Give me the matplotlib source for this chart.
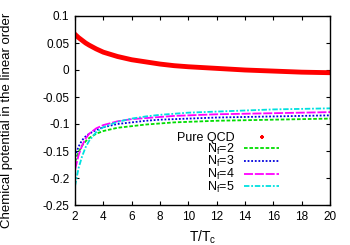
import numpy as np
import matplotlib
matplotlib.use('Agg')
import matplotlib.pyplot as plt

# valores
T = [2, 2.25, 2.5, 2.75, 3, 3.5, 4, 5, 6, 7, 8, 9, 10, 12, 14, 16, 18, 20]
pure = [0.066, 0.060, 0.055, 0.050, 0.046, 0.039, 0.033, 0.025, 0.019, 0.015, 0.011, 0.008, 0.006, 0.003, 0.000, -0.002, -0.004, -0.005]
nf2 = [-0.170, -0.152, -0.140, -0.132, -0.126, -0.118, -0.113, -0.107, -0.104, -0.101, -0.099, -0.097, -0.096, -0.094, -0.093, -0.092, -0.091, -0.090]
nf3 = [-0.160, -0.142, -0.130, -0.123, -0.118, -0.111, -0.106, -0.100, -0.097, -0.094, -0.092, -0.091, -0.090, -0.088, -0.087, -0.086, -0.085, -0.084]
nf4 = [-0.185, -0.158, -0.140, -0.127, -0.118, -0.108, -0.102, -0.095, -0.091, -0.089, -0.087, -0.085, -0.084, -0.082, -0.081, -0.080, -0.079, -0.078]
nf5 = [-0.215, -0.182, -0.160, -0.143, -0.131, -0.115, -0.106, -0.096, -0.090, -0.086, -0.083, -0.081, -0.079, -0.077, -0.075, -0.073, -0.072, -0.071]

plt.rcParams['font.family'] = ['Liberation Sans', 'DejaVu Sans']
plt.rcParams['font.size'] = 8.5
plt.rcParams['mathtext.fontset'] = 'custom'
plt.rcParams['mathtext.rm'] = 'Liberation Sans'
plt.rcParams['mathtext.it'] = 'Liberation Sans'

fig = plt.figure(figsize=(3.5, 2.45), dpi=100)
ax = fig.add_axes([75/350, 1 - 205/245, 255/350, 189/245])

ax.plot(T, pure, color='red', linewidth=3.5, label='Pure QCD')
ax.plot(T, nf2, color='#00dd00', linestyle=(0, (2, 1)), linewidth=1.3, label=r'N$_\mathrm{f}$=2')
ax.plot(T, nf3, color='#0000dd', linestyle=(0, (1, 1)), linewidth=1.3, label=r'N$_\mathrm{f}$=3')
ax.plot(T, nf4, color='#ff00ff', linestyle=(0, (5, 1)), linewidth=1.3, label=r'N$_\mathrm{f}$=4')
ax.plot(T, nf5, color='#00e0e0', linestyle=(0, (3, 1, 1, 1)), linewidth=1.3, label=r'N$_\mathrm{f}$=5')

handles, labels = ax.get_legend_handles_labels()
handles[0] = plt.Line2D([], [], color='red', marker='+', linestyle='none', markersize=3, markeredgewidth=1.5)
leg = ax.legend(handles, labels, loc='lower right', bbox_to_anchor=(0.80, 0.055),
                markerfirst=False, frameon=False, handlelength=2.8, labelspacing=-0.2,
                handletextpad=0.75, borderpad=0, borderaxespad=0, fontsize=9)
for t in leg.get_texts():
    t.set_ha('right')

ax.set_xlim(2, 20)
ax.set_ylim(-0.25, 0.1)
ax.set_xticks(np.arange(2, 21, 2))
ax.set_yticks([-0.25, -0.2, -0.15, -0.1, -0.05, 0, 0.05, 0.1])
ax.set_yticklabels(['-0.25', '-0.2', '-0.15', '-0.1', '-0.05', '0', '0.05', '0.1'])
ax.tick_params(direction='in', top=True, right=True, length=3, width=0.8, pad=4)
for s in ax.spines.values():
    s.set_linewidth(1)

ax.set_xlabel(r'T/T$_\mathrm{c}$', labelpad=4, fontsize=10)
ax.set_ylabel('Chemical potential in the linear order', labelpad=14, fontsize=9.5)
ax.yaxis.set_label_coords(-0.245, 0.45)

fig.savefig('out.png', dpi=100)
